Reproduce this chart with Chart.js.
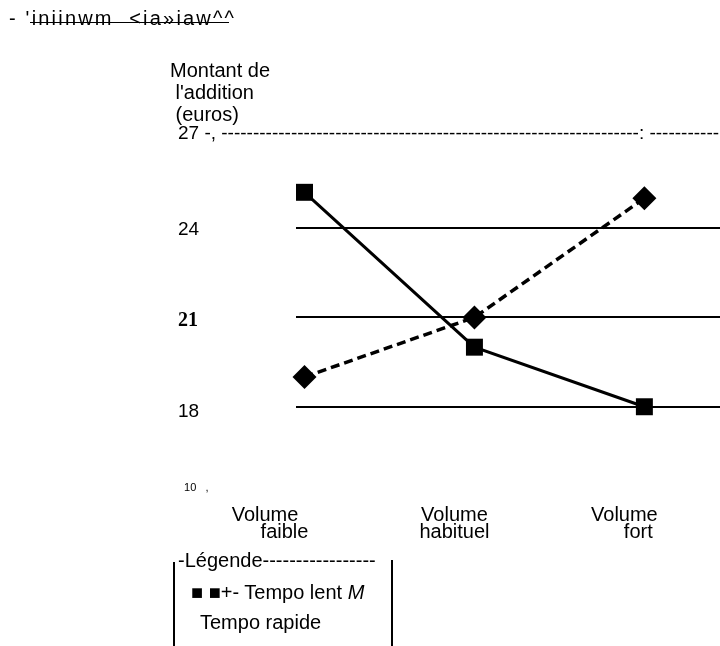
<!DOCTYPE html>
<html>
<head>
<meta charset="utf-8">
<script src="https://cdn.jsdelivr.net/npm/chart.js@4.4.1/dist/chart.umd.min.js"></script>
<style>
  html, body { margin: 0; padding: 0; background: #fff; }
  #wrap { position: relative; width: 720px; height: 646px; overflow: hidden;
          font-family: "Liberation Sans", Arial, sans-serif; color: #000; }
  #c { position: absolute; left: 0; top: 0; }
  .txt { position: absolute; white-space: pre; font-size: 20px; line-height: 20px; }
  .rule { position: absolute; background: #000; }
</style>
</head>
<body>
<div id="wrap">
  <canvas id="c" width="720" height="646"></canvas>

  <div class="txt" style="left:9px; top:8px; letter-spacing:2.2px;">- 'iniinwm  &lt;ia»iaw^^</div>
  <div class="rule" style="left:30px; top:22px; width:199px; height:1px;"></div>

  <div class="txt" style="left:170px; top:59px; line-height:22px;">Montant de
 l'addition
 (euros)</div>

  <!-- legend frame -->
  <div class="rule" style="left:173px; top:562px; width:2px; height:84px;"></div>
  <div class="rule" style="left:391px; top:560px; width:2px; height:86px;"></div>
  <div class="txt" id="legTitle" style="left:178px; top:550px;"></div>
  <div class="txt" id="legLent" style="left:191px; top:582px;"></div>
  <div class="txt" id="legRapide" style="left:200px; top:612px;"></div>
</div>

<script>
// Categories along the x axis
const categories = ['Volume faible', 'Volume habituel', 'Volume fort'];

// Bill amount (euros) per series
const seriesNames = ['Tempo lent', 'Tempo rapide'];
const tempoLent   = [25.2, 20.0, 18.0];
const tempoRapide = [19.0, 21.0, 25.0];

// Y axis ticks (the bottom tick marks the broken axis, labelled 10)
const yTickValues = [15, 18, 21, 24, 27];
const yTickLabels = ['  10   ,', '18', '21', '24',
  '27 -, ' + '-'.repeat(66) + ': ' + '-'.repeat(11)];
const yGridValues = [18, 21, 24];

// Legend texts
document.getElementById('legTitle').textContent = '-Légende' + '-'.repeat(17);
document.getElementById('legLent').innerHTML = '■ ■+- ' + seriesNames[0] + ' <i>M</i>';
document.getElementById('legRapide').textContent = seriesNames[1];

const SANS = '"Liberation Sans", Arial, sans-serif';
const SERIF = '"Liberation Serif", "Times New Roman", serif';

// Horizontal nudge (px) of each line of the category labels
const xLineShift = [[-19.5, 0], [0, 0], [0, 14]];
const SPACE_W = 5.56;
function shiftLine(s, dx) {
  const n = Math.round(Math.abs(dx) * 2 / SPACE_W);
  const pad = ' '.repeat(n);
  return dx < 0 ? s + pad : pad + s;
}

// Vertical nudge of y tick labels relative to their tick (px, + = down)
const yLabelShift = { 15: -8, 18: 5.5, 21: 3.5, 24: 2, 27: -5 };

new Chart(document.getElementById('c'), {
  type: 'line',
  data: {
    datasets: [
      {
        label: seriesNames[0],
        data: tempoLent.map((v, i) => ({ x: i, y: v })),
        borderColor: '#000',
        backgroundColor: '#000',
        borderWidth: 3,
        pointStyle: 'rect',
        pointRadius: 12,
        pointHoverRadius: 12,
        pointBorderWidth: 0,
        pointBackgroundColor: '#000',
        tension: 0,
        clip: false
      },
      {
        label: seriesNames[1],
        data: tempoRapide.map((v, i) => ({ x: i, y: v })),
        borderColor: '#000',
        backgroundColor: '#000',
        borderWidth: 3.5,
        borderDash: [9, 5],
        pointStyle: 'rectRot',
        pointRadius: 12,
        pointHoverRadius: 12,
        pointBorderWidth: 0,
        pointBackgroundColor: '#000',
        tension: 0,
        clip: false
      }
    ]
  },
  options: {
    responsive: false,
    animation: false,
    devicePixelRatio: 1,
    events: [],
    layout: { autoPadding: false, padding: { left: 178, top: 138.7, right: 0, bottom: 89.9 } },
    plugins: {
      legend: { display: false },
      tooltip: { enabled: false },
      title: { display: false }
    },
    scales: {
      x: {
        type: 'linear',
        min: -0.05,
        max: 2.445,
        grid: { display: false, drawTicks: false },
        border: { display: false },
        afterBuildTicks: s => { s.ticks = categories.map((_, i) => ({ value: i })); },
        afterFit: s => { s.height = 60; s.paddingLeft = 0; s.paddingRight = 0; },
        ticks: {
          autoSkip: false,
          maxRotation: 0,
          padding: 11,
          labelOffset: -20,
          color: '#000',
          font: { family: SANS, size: 20, lineHeight: 0.83 },
          callback: v => categories[v].split(' ').map((s, j) => shiftLine(s, xLineShift[v][j]))
        }
      },
      y: {
        min: 15,
        max: 27,
        border: { display: false },
        afterBuildTicks: s => { s.ticks = yTickValues.map(v => ({ value: v })); },
        afterFit: s => { s.width = 118; },
        grid: {
          drawTicks: false,
          lineWidth: 2,
          color: c => (c.tick && yGridValues.includes(c.tick.value)) ? '#000' : 'rgba(0,0,0,0)'
        },
        ticks: {
          autoSkip: false,
          mirror: true,
          padding: -118,
          color: '#000',
          callback: v => {
            const t = yTickLabels[yTickValues.indexOf(v)];
            const d = yLabelShift[v] || 0;
            if (d === 0) return t;
            return d < 0 ? [t, ''] : ['', t];
          },
          font: c => {
            const v = c.tick ? c.tick.value : null;
            const lh = Math.abs(yLabelShift[v] || 0) * 2;
            const f = (v === 21)
              ? { family: SERIF, size: 20, weight: 'bold' }
              : { family: SANS, size: v === 15 ? 11 : 19 };
            if (lh > 0) f.lineHeight = lh + 'px';
            return f;
          }
        }
      }
    }
  }
});
</script>
</body>
</html>
